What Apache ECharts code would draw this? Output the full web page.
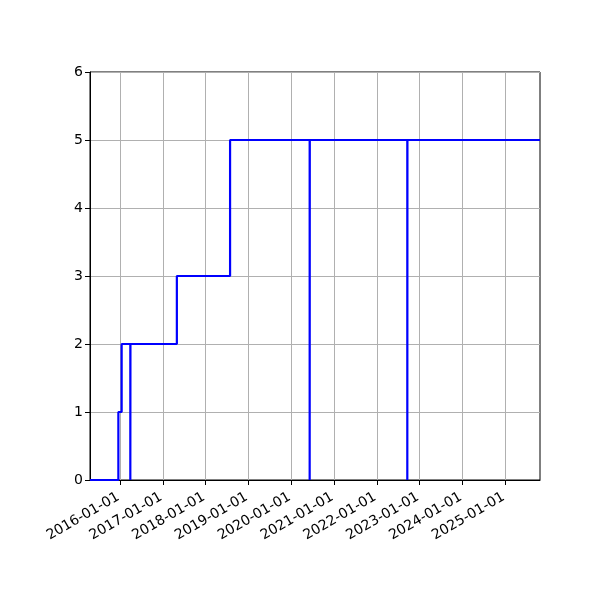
<!DOCTYPE html>
<html>
<head>
<meta charset="utf-8">
<script src="https://cdn.jsdelivr.net/npm/echarts@6/dist/echarts.min.js"></script>
<style>html,body{margin:0;padding:0;background:#fff}#c{width:600px;height:600px}</style>
</head>
<body>
<div id="c"></div>
<script>
// step data (value holds until next date)
var dates = ['2015-04-20','2015-12-18','2016-01-15','2016-03-29','2016-03-30','2017-04-30','2018-07-28','2020-06-06','2020-06-07','2022-09-17','2022-09-18','2025-10-23'];
var values = [0,1,2,0,2,3,5,0,5,0,5,5];
var tickDates = ['2016-01-01','2017-01-01','2018-01-01','2019-01-01','2020-01-01','2021-01-01','2022-01-01','2023-01-01','2024-01-01','2025-01-01'];
var yTicks = [0,1,2,3,4,5,6];
var xStart = '2015-04-20', xEnd = '2025-10-23';

function ts(s){ var p=s.split('-'); return Date.UTC(+p[0],+p[1]-1,+p[2]); }
var tickTs = tickDates.map(ts);
var seriesData = dates.map(function(d,i){ return [ts(d), values[i]]; });
var font = 'DejaVu Sans';

var chart = echarts.init(document.getElementById('c'), null, {renderer:'canvas'});
chart.setOption({
  animation: false,
  backgroundColor: '#fff',
  grid: {left:90, right:60, top:72, bottom:120, show:true, borderColor:'#000', borderWidth:1, backgroundColor:'transparent'},
  xAxis: {
    type:'value', min: ts(xStart), max: ts(xEnd), scale:true,
    axisLine:{show:true, onZero:false, lineStyle:{color:'#000', width:1}},
    axisTick:{show:true, length:5, lineStyle:{color:'#000'}, customValues: tickTs},
    axisLabel:{show:true, rotate:30, color:'#000', fontFamily:font, fontSize:14, margin:15,
      padding:[0,2,0,0],
      customValues: tickTs,
      formatter:function(v){ var d=new Date(v); var m=d.getUTCMonth()+1, dd=d.getUTCDate();
        return d.getUTCFullYear()+'-'+(m<10?'0':'')+m+'-'+(dd<10?'0':'')+dd; }},
    splitLine:{show:false}
  },
  yAxis: {
    type:'value', min:yTicks[0], max:yTicks[yTicks.length-1], interval:1,
    axisLine:{show:true, lineStyle:{color:'#000', width:1}},
    axisTick:{show:true, length:5, lineStyle:{color:'#000'}},
    axisLabel:{color:'#000', fontFamily:font, fontSize:14, margin:7},
    splitLine:{show:true, lineStyle:{color:'#b0b0b0', width:1}}
  },
  series: [
    {
      type:'line', data: [], silent:true,
      markLine:{silent:true, symbol:['none','none'], label:{show:false},
        lineStyle:{color:'#b0b0b0', width:1, type:'solid'},
        data: tickTs.map(function(t){ return {xAxis:t}; })}
    },
    {
      type:'line', step:'end', data: seriesData, showSymbol:false, symbol:'none',
      lineStyle:{color:'#0000ff', width:2.2}, itemStyle:{color:'#0000ff'}, z:5
    }
  ]
});
</script>
</body>
</html>
